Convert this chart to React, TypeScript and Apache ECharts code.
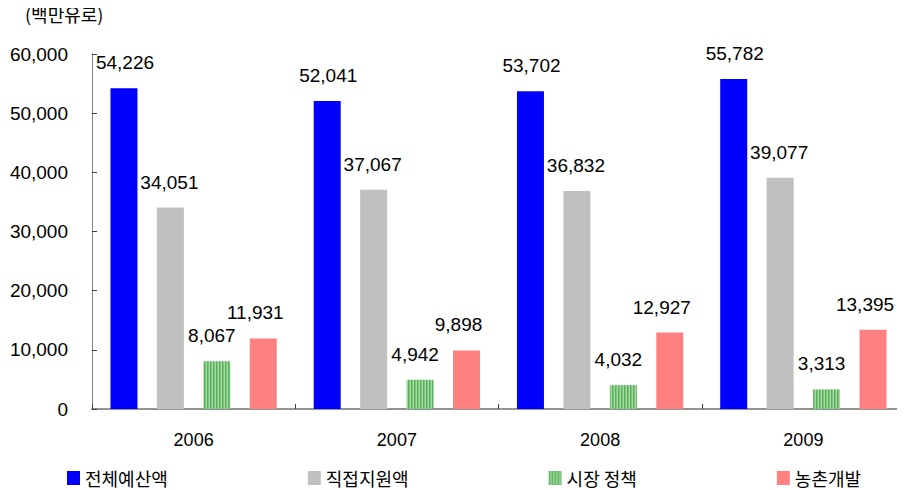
import React, { useEffect, useRef } from "react";
import * as echarts from "echarts";

const years = ["2006", "2007", "2008", "2009"];
const seriesNames = ["전체예산액", "직접지원액", "시장 정책", "농촌개발"];
const totalBudget = [54226, 52041, 53702, 55782];
const directPayments = [34051, 37067, 36832, 39077];
const marketPolicy = [8067, 4942, 4032, 3313];
const ruralDev = [11931, 9898, 12927, 13395];
const unitLabel = "(백만유로)";

function makeStripe(): HTMLCanvasElement {
  const c = document.createElement("canvas");
  c.width = 3;
  c.height = 8;
  const ctx = c.getContext("2d")!;
  ctx.fillStyle = "#58b058";
  ctx.fillRect(0, 0, 1, 8);
  ctx.fillStyle = "#7cc47c";
  ctx.fillRect(1, 0, 1, 8);
  ctx.fillStyle = "#a8d9a8";
  ctx.fillRect(2, 0, 1, 8);
  return c;
}

export default function App() {
  const ref = useRef<HTMLDivElement>(null);
  useEffect(() => {
    if (!ref.current) return;
    const chart = echarts.init(ref.current, undefined, { renderer: "svg" });
    const font = "'Liberation Sans', Arial, sans-serif";
    const krFont = "'Noto Sans CJK KR', sans-serif";
    const stripe = { image: makeStripe(), repeat: "repeat" } as any;
    const colors = ["#0000ff", "#c0c0c0", stripe, "#ff8080"];
    const values = [totalBudget, directPayments, marketPolicy, ruralDev];
    const offsets = [[1, 0], [-1, 0], [-5, 0], [-8, 0]];
    chart.setOption({
      animation: false,
      backgroundColor: "#ffffff",
      graphic: [
        {
          type: "text",
          left: 25,
          top: 5,
          style: { text: unitLabel, font: `18px ${krFont}`, fill: "#000" },
        },
      ],
      legend: {
        data: seriesNames,
        left: 62,
        top: 464,
        width: 840,
        padding: [5, 5, 2, 5],
        itemWidth: 13,
        itemHeight: 14,
        icon: "rect",
        itemGap: 140,
        textStyle: {
          fontSize: 18,
          lineHeight: 18,
          fontFamily: krFont,
          color: "#000",
        },
      },
      grid: { left: 92, right: 0, top: 54, bottom: 81, containLabel: false },
      xAxis: {
        type: "category",
        data: years,
        axisLine: { lineStyle: { color: "#707070", width: 1.5 } },
        axisTick: { show: true, inside: true, length: 5, lineStyle: { color: "#404040" } },
        axisLabel: { fontSize: 18, fontFamily: font, color: "#000", margin: 22 },
      },
      yAxis: {
        type: "value",
        min: 0,
        max: 60000,
        interval: 10000,
        axisLine: { show: true, lineStyle: { color: "#808080" } },
        axisTick: { show: true, inside: true, length: 5, lineStyle: { color: "#404040" } },
        splitLine: { show: false },
        axisLabel: {
          fontSize: 19,
          fontFamily: font,
          color: "#000",
          margin: 24,
          formatter: (v: number) => v.toLocaleString("en-US"),
        },
      },
      series: seriesNames.map((n, i) => ({
        name: n,
        type: "bar",
        data: values[i],
        barWidth: 27,
        barGap: "72%",
        itemStyle: { color: colors[i] },
        label: {
          show: true,
          position: "top",
          distance: 16,
          offset: offsets[i],
          fontSize: 19,
          fontFamily: font,
          color: "#000",
          formatter: (p: any) => Number(p.value).toLocaleString("en-US"),
        },
      })),
    });
    return () => chart.dispose();
  }, []);
  return <div ref={ref} style={{ width: 905, height: 490, margin: "-8px -8px 0 -8px" }} />;
}
